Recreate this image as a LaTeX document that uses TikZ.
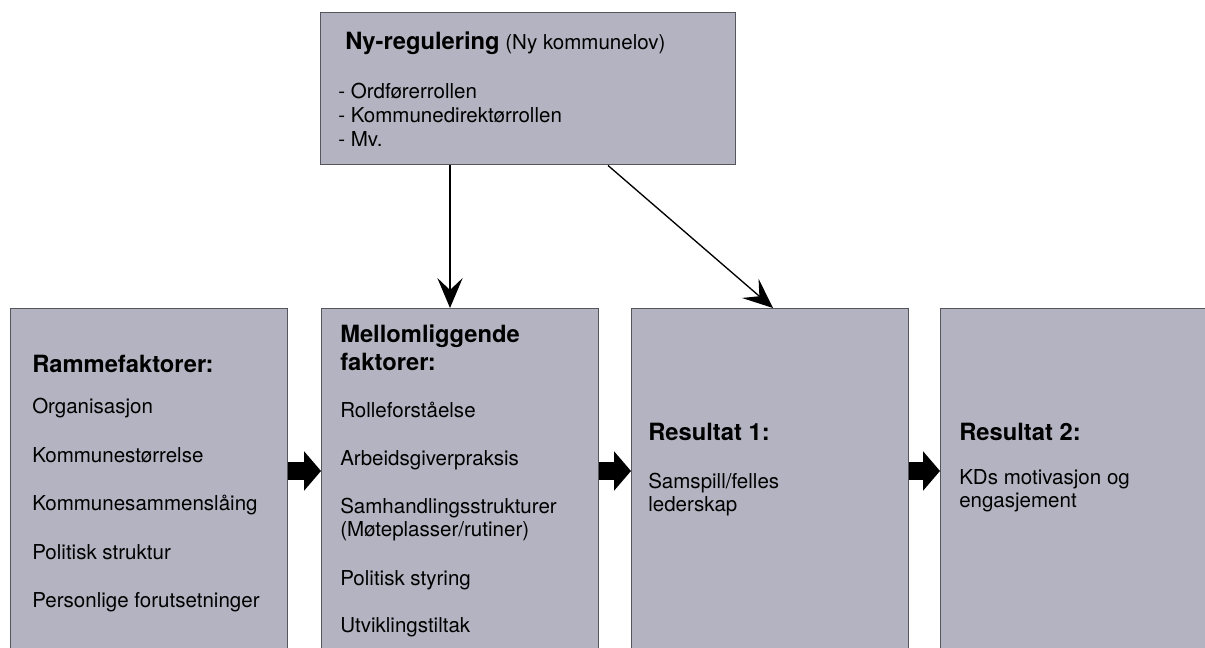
\documentclass[tikz,border=0pt]{standalone}
\usepackage{fontspec}
\setmainfont{TeX Gyre Heros}
\usetikzlibrary{arrows.meta,calc}
\definecolor{boxfill}{RGB}{180,179,193}
\definecolor{boxline}{RGB}{85,85,92}
\begin{document}
\begin{tikzpicture}[x=0.75pt,y=-0.75pt,
  box/.style={draw=boxline,fill=boxfill,line width=1.1pt,anchor=north west,inner sep=0pt},
  txt/.style={anchor=base west,inner sep=0pt,font=\fontsize{15.4}{18}\selectfont,align=left},
  hd/.style={anchor=base west,inner sep=0pt,font=\fontsize{17.8}{21}\selectfont\bfseries,align=left},
  thinarrow/.style={line width=1pt,-{Stealth[length=22.5pt,width=19pt,inset=9pt]}},
  fatarrow/.style={line width=13.5pt,-{Triangle[length=12.75pt 0 0,width=29pt 0 0]}}
]
\useasboundingbox (0,0) rectangle (1205,648);
\clip (0,0) rectangle (1205,648);
\fill[white] (0,0) rectangle (1205,648);

% boxes
\node[box,minimum width=311.25pt,minimum height=114pt] (top) at (320,12) {};
\node[box,minimum width=207.75pt,minimum height=294pt] (b1) at (10,308) {};
\node[box,minimum width=207.75pt,minimum height=294pt] (b2) at (321,308) {};
\node[box,minimum width=207.75pt,minimum height=294pt] (b3) at (631,308) {};
\node[box,minimum width=240pt,minimum height=294pt] (b4) at (940,308) {};

% top box text
\node[txt] (t0) at (345,50) {\fontsize{17.8}{21}\selectfont\bfseries Ny-regulering\fontsize{15.4}{18}\selectfont\mdseries\ (Ny kommunelov)};
\node[txt] (t1) at (338,99) {- Ordførerrollen};
\node[txt] (t2) at (338,123) {- Kommunedirektørrollen};
\node[txt] (t3) at (338,147) {- Mv.};

% box 1 text
\node[hd] (h1) at (32,372) {Rammefaktorer:};
\node[txt] (r1) at (32,413) {Organisasjon};
\node[txt] (r2) at (32,462) {Kommunestørrelse};
\node[txt] (r3) at (32,510) {Kommunesammenslåing};
\node[txt] (r4) at (32,559) {Politisk struktur};
\node[txt] (r5) at (32,607) {Personlige forutsetninger};

% box 2 text
\node[hd] (h2a) at (340,342) {Mellomliggende};
\node[hd] (h2b) at (340,370) {faktorer:};
\node[txt] (m1) at (340,417) {Rolleforståelse};
\node[txt] (m2) at (340,465) {Arbeidsgiverpraksis};
\node[txt] (m3a) at (340,513) {Samhandlingsstrukturer};
\node[txt] (m3b) at (340,536) {(Møteplasser/rutiner)};
\node[txt] (m4) at (340,585) {Politisk styring};
\node[txt] (m5) at (340,632) {Utviklingstiltak};

% box 3 text
\node[hd] (h3) at (648,440) {Resultat 1:};
\node[txt] (s1) at (648,488) {Samspill/felles};
\node[txt] (s2) at (648,511) {lederskap};

% box 4 text
\node[hd] (h4) at (959,440) {Resultat 2:};
\node[txt] (k1) at (959,484) {KDs motivasjon og};
\node[txt] (k2) at (959,507) {engasjement};

% thin arrows
\draw[thinarrow] ($(top.south west)+(130,0)$) -- ($(b2.north west)+(129,0)$);
\draw[thinarrow] ($(top.south west)+(288,0)$) -- ($(b3.north west)+(142,0)$);

% fat arrows
\draw[fatarrow] ($(b1.north east)+(0,163)$) -- ($(b2.north west)+(0,163)$);
\draw[fatarrow] ($(b2.north east)+(0,163)$) -- ($(b3.north west)+(0,163)$);
\draw[fatarrow] ($(b3.north east)+(0,163)$) -- ($(b4.north west)+(0,163)$);
\end{tikzpicture}
\end{document}
